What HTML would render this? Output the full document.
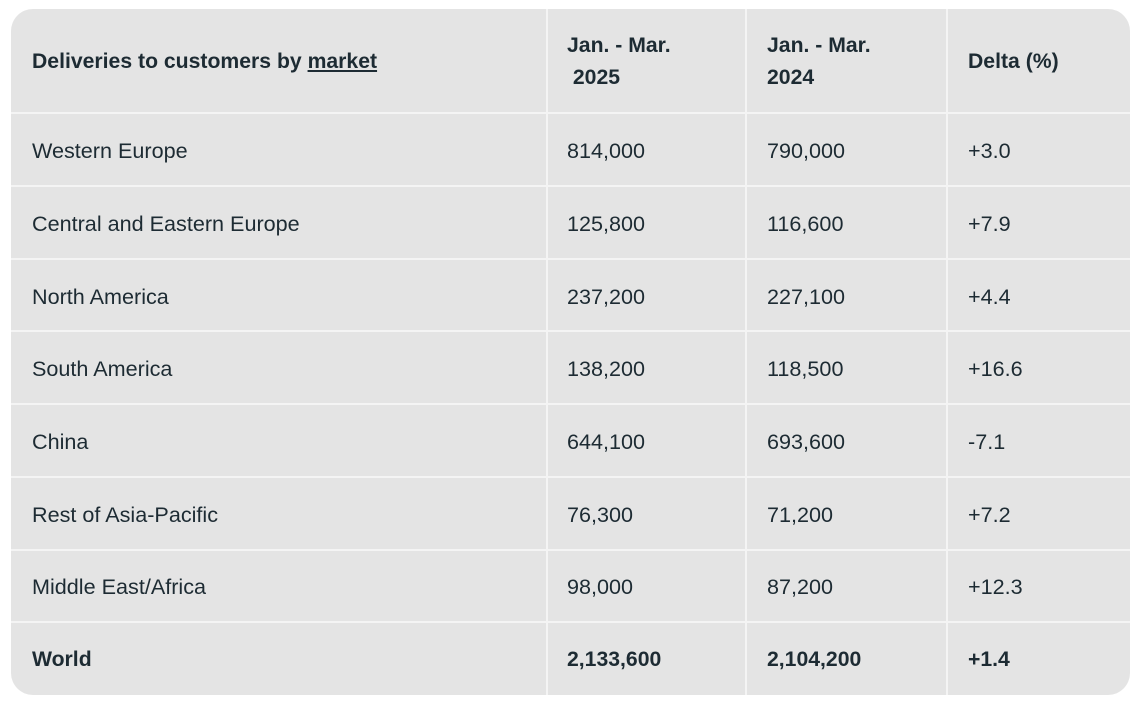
<!DOCTYPE html>
<html><head><style>
body{margin:0;background:#fff;width:1140px;height:703px;overflow:hidden;font-family:"Liberation Sans",sans-serif;color:#1d2b33}
.box{position:absolute;left:11px;top:9px;width:1119px;height:686px;background:#e4e4e4;border-radius:22px;overflow:hidden}
.vl{position:absolute;top:0;height:686px;width:2px;background:#f4f4f4}
.hl{position:absolute;left:0;width:1119px;height:2px;background:#f4f4f4}
.t{position:absolute;font-size:21.6px;line-height:32px;white-space:nowrap}
.b{font-weight:bold;font-size:21.2px}
</style></head><body>
<div class="box">
<div class="vl" style="left:535px"></div>
<div class="vl" style="left:734px"></div>
<div class="vl" style="left:935px"></div>
<div class="hl" style="top:103px"></div>
<div class="hl" style="top:176px"></div>
<div class="hl" style="top:249px"></div>
<div class="hl" style="top:321px"></div>
<div class="hl" style="top:394px"></div>
<div class="hl" style="top:467px"></div>
<div class="hl" style="top:540px"></div>
<div class="hl" style="top:612px"></div>
</div>
<div class="t b" style="left:32px;top:46px">Deliveries to customers by <u>market</u></div>
<div class="t b" style="left:567px;top:30px">Jan. - Mar.<br>&nbsp;2025</div>
<div class="t b" style="left:767px;top:30px">Jan. - Mar.<br>2024</div>
<div class="t b" style="left:968px;top:46px">Delta (%)</div>

<div class="t" style="left:32px;top:135px">Western Europe</div><div class="t" style="left:567px;top:135px">814,000</div><div class="t" style="left:767px;top:135px">790,000</div><div class="t" style="left:968px;top:135px">+3.0</div>
<div class="t" style="left:32px;top:208px">Central and Eastern Europe</div><div class="t" style="left:567px;top:208px">125,800</div><div class="t" style="left:767px;top:208px">116,600</div><div class="t" style="left:968px;top:208px">+7.9</div>
<div class="t" style="left:32px;top:281px">North America</div><div class="t" style="left:567px;top:281px">237,200</div><div class="t" style="left:767px;top:281px">227,100</div><div class="t" style="left:968px;top:281px">+4.4</div>
<div class="t" style="left:32px;top:353px">South America</div><div class="t" style="left:567px;top:353px">138,200</div><div class="t" style="left:767px;top:353px">118,500</div><div class="t" style="left:968px;top:353px">+16.6</div>
<div class="t" style="left:32px;top:426px">China</div><div class="t" style="left:567px;top:426px">644,100</div><div class="t" style="left:767px;top:426px">693,600</div><div class="t" style="left:968px;top:426px">-7.1</div>
<div class="t" style="left:32px;top:499px">Rest of Asia-Pacific</div><div class="t" style="left:567px;top:499px">76,300</div><div class="t" style="left:767px;top:499px">71,200</div><div class="t" style="left:968px;top:499px">+7.2</div>
<div class="t" style="left:32px;top:571px">Middle East/Africa</div><div class="t" style="left:567px;top:571px">98,000</div><div class="t" style="left:767px;top:571px">87,200</div><div class="t" style="left:968px;top:571px">+12.3</div>
<div class="t b" style="left:32px;top:644px">World</div><div class="t b" style="left:567px;top:644px">2,133,600</div><div class="t b" style="left:767px;top:644px">2,104,200</div><div class="t b" style="left:968px;top:644px">+1.4</div>
</body></html>
